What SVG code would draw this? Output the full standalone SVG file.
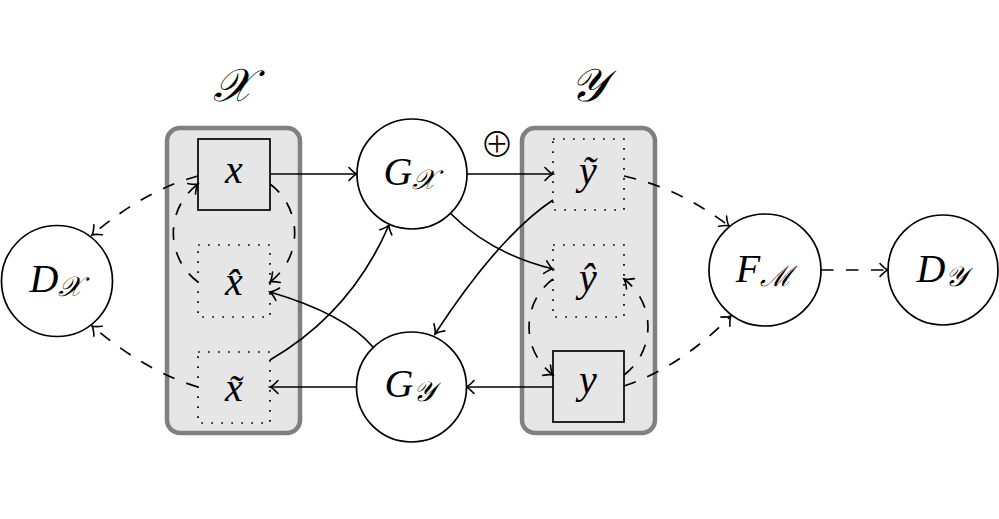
<svg xmlns="http://www.w3.org/2000/svg" width="999" height="519" viewBox="0 0 999 519">
<style>
.panel{fill:#e6e6e6;stroke:#808080;stroke-width:4.5}
.node{fill:#ffffff;stroke:#000;stroke-width:1.7}
.box{fill:none;stroke:#000;stroke-width:1.7}
.dot{fill:none;stroke:#000;stroke-width:1.7;stroke-dasharray:1.7 8.3}
.e{fill:none;stroke:#000;stroke-width:1.7;marker-end:url(#to)}
.d{stroke-dasharray:12.5 12.5}
.t{font-family:"Liberation Serif","DejaVu Serif",serif;font-style:italic;font-size:40px;text-anchor:middle;fill:#000}
.s{font-size:28px}
.big{font-size:46px}
</style>
<defs>
<marker id="to" markerUnits="userSpaceOnUse" viewBox="-10 -8 12 16" refX="0" refY="0" markerWidth="12" markerHeight="16" orient="auto">
<path d="M-8,-6.5 Q-3,-1 0,0 Q-3,1 -8,6.5" fill="none" stroke="#000" stroke-width="1.6" stroke-linecap="round"/>
</marker>
</defs>
<rect id="panelX" class="panel" x="167" y="128" width="133" height="305" rx="13"/>
<rect id="panelY" class="panel" x="522" y="128" width="133" height="305" rx="13"/>
<g id="labelX"><text class="t big" x="233" y="101">𝒳</text></g>
<g id="labelY"><text class="t big" x="588" y="101">𝒴</text></g>
<g id="oplus"><text x="497" y="157" font-family="Noto Sans CJK JP, DejaVu Sans, sans-serif" font-weight="300" font-size="34" text-anchor="middle">⊕</text></g>
<g id="connectors">
<path class="e" d="M270,174 H357"/>
<path class="e" d="M467,174 H553"/>
<path class="e" d="M450,213 Q491,254 553,269"/>
<path class="e" d="M553,200 Q499,236 435,334"/>
<path class="e" d="M553,387 H466"/>
<path class="e" d="M357,387 H270"/>
<path class="e" d="M373,347 Q345,314 270,292"/>
<path class="e" d="M270,360 Q351,313 389,225"/>
<path class="e d" d="M198,176 Q145,190 92,235"/>
<path class="e d" d="M198,387 Q145,371 92,326"/>
<path class="e d" d="M198,282 A61,61 0 0 1 198,184"/>
<path class="e d" d="M270,184 A61,61 0 0 1 270,282"/>
<path class="e d" d="M553,279 A60,60 0 0 0 553,375"/>
<path class="e d" d="M624,375 A60,60 0 0 0 624,279"/>
<path class="e d" d="M624,176 Q679,188 729,226"/>
<path class="e d" d="M624,386 Q679,368 731,316"/>
<path class="e d" d="M821,270 H888"/>
</g>
<g id="x"><rect class="box" x="198" y="139" width="72" height="71"/><text class="t" x="234" y="183">x</text></g>
<g id="xhat"><rect class="dot" x="198" y="245" width="72" height="72"/><text class="t" x="234" y="295">x̂</text></g>
<g id="xtilde"><rect class="dot" x="198" y="352" width="72" height="71"/><text class="t" x="234" y="401">x̃</text></g>
<g id="ytilde"><rect class="dot" x="553" y="139" width="71" height="71"/><text class="t" x="588" y="184">ỹ</text></g>
<g id="yhat"><rect class="dot" x="553" y="245" width="71" height="72"/><text class="t" x="588" y="291">ŷ</text></g>
<g id="y"><rect class="box" x="553" y="351" width="71" height="71"/><text class="t" x="588" y="393">y</text></g>
<g id="DX"><circle class="node" cx="57" cy="281" r="55.5"/><text class="t" x="56" y="292">D<tspan class="s" dy="4">𝒳</tspan></text></g>
<g id="GX"><circle class="node" cx="412" cy="174" r="55"/><text class="t" x="410" y="185">G<tspan class="s" dy="4">𝒳</tspan></text></g>
<g id="GY"><circle class="node" cx="411.5" cy="387" r="55"/><text class="t" x="410" y="397">G<tspan class="s" dy="4">𝒴</tspan></text></g>
<g id="FM"><circle class="node" cx="765" cy="270" r="56"/><text class="t" x="764" y="282">F<tspan class="s" dy="4">ℳ</tspan></text></g>
<g id="DY"><circle class="node" cx="943" cy="270" r="55"/><text class="t" x="942" y="282">D<tspan class="s" dy="4">𝒴</tspan></text></g>
</svg>
